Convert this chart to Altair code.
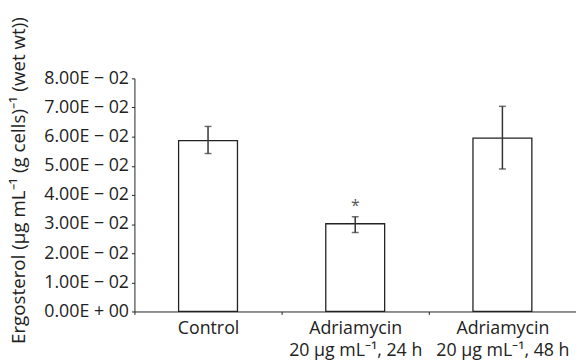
import altair as alt
import pandas as pd

categories = ["Control", "Adriamycin\n20 \u03bcg mL\u207b\u00b9, 24 h", "Adriamycin\n20 \u03bcg mL\u207b\u00b9, 48 h"]
means = [0.0586, 0.0301, 0.0595]
err_low = [0.0542, 0.0271, 0.0489]
err_high = [0.0635, 0.0325, 0.0704]
signif = ["", "*", ""]

y_tick_values = [0.0, 0.01, 0.02, 0.03, 0.04, 0.05, 0.06, 0.07, 0.08]
y_tick_labels = ["0.00E + 00", "1.00E \u2212 02", "2.00E \u2212 02",
                 "3.00E \u2212 02", "4.00E \u2212 02", "5.00E \u2212 02",
                 "6.00E \u2212 02", "7.00E \u2212 02", "8.00E \u2212 02"]

df = pd.DataFrame({"cat": categories, "mean": means, "lo": err_low, "hi": err_high, "sig": signif})

FONT = "Open Sans"
FS = 18
label_expr = "[" + ",".join("'" + s + "'" for s in y_tick_labels) + "][round(datum.value*100)]"

x = alt.X("cat:N", sort=categories,
          scale=alt.Scale(paddingInner=0, paddingOuter=0),
          axis=alt.Axis(title=None, labelAngle=0, labelExpr="split(datum.label, '\\n')",
                        tickBand="extent", tickSize=3, labelPadding=5,
                        labelFontSize=FS, labelFont=FONT, labelColor="#222",
                        domainColor="#222", tickColor="#222", labelLineHeight=23,
                        labelOverlap=False))
y_scale = alt.Scale(domain=[0, 0.08], nice=False)
y_axis = alt.Axis(values=y_tick_values, labelExpr=label_expr, grid=False,
                  labelOverlap=False,
                  title="Ergosterol (\u03bcg mL\u207b\u00b9 (g cells)\u207b\u00b9 (wet wt))",
                  titleFont=FONT, titleFontSize=19, titleFontWeight="normal",
                  titleColor="#222", labelFont=FONT, labelFontSize=FS,
                  labelColor="#222", domainColor="#222", tickColor="#222",
                  tickSize=3, labelPadding=3,
                  titleX=-117, titleY=103, titleAlign="center", titleBaseline="middle",
                  titleAngle=270)

bars = alt.Chart(df).mark_bar(fill="white", stroke="#222", strokeWidth=1.3,
                              width=alt.RelativeBandSize(0.4)).encode(
    x=x,
    y=alt.Y("mean:Q", scale=y_scale, axis=y_axis)
)

rules = alt.Chart(df).mark_rule(color="#333", strokeWidth=1.5).encode(
    x=alt.X("cat:N", sort=categories), y=alt.Y("lo:Q", scale=y_scale, axis=y_axis), y2="hi:Q")
caps_hi = alt.Chart(df).mark_tick(color="#333", thickness=1.5, size=7, orient="horizontal").encode(
    x=alt.X("cat:N", sort=categories), y=alt.Y("hi:Q", scale=y_scale, axis=y_axis))
caps_lo = alt.Chart(df).mark_tick(color="#333", thickness=1.5, size=7, orient="horizontal").encode(
    x=alt.X("cat:N", sort=categories), y=alt.Y("lo:Q", scale=y_scale, axis=y_axis))
star = alt.Chart(df).mark_text(font=FONT, fontSize=16, color="#555", dy=-11).encode(
    x=alt.X("cat:N", sort=categories), y=alt.Y("hi:Q", scale=y_scale, axis=y_axis), text="sig:N")

chart = alt.layer(bars, rules, caps_hi, caps_lo, star).properties(
    width=447, height=236,
    autosize=alt.AutoSizeParams(type="none"),
    padding={"left": 128, "top": 69, "right": 0, "bottom": 55},
).configure_view(stroke=None)

chart.save("out.html", embed_options={"renderer": "svg", "actions": False})
